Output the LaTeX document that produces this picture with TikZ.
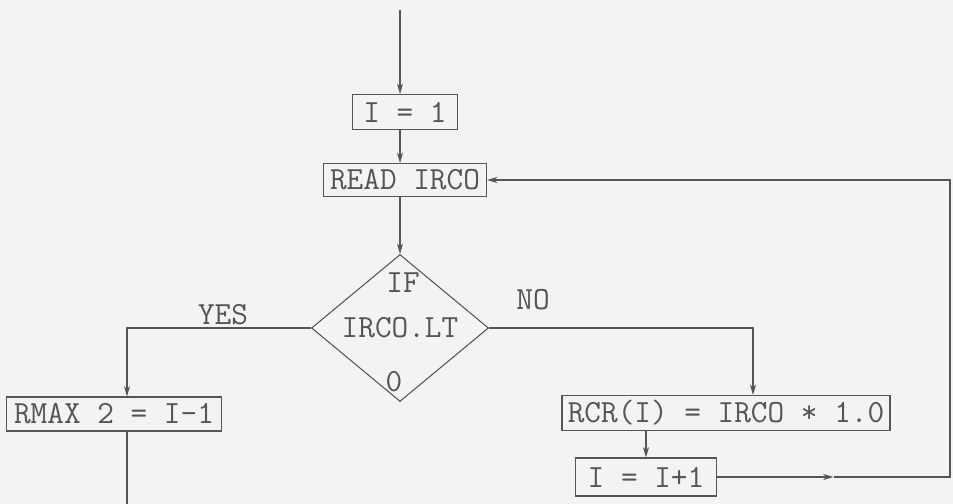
\documentclass[tikz,border=0pt]{standalone}
\usetikzlibrary{shapes.geometric, positioning, arrows.meta, calc}
\definecolor{paper}{RGB}{243,243,241}
\definecolor{ink}{RGB}{85,85,85}

\begin{document}
\begin{tikzpicture}[
    > = {Stealth[length=6pt, width=3.5pt]}, line width=0.6pt,
    typed/.style={font=\ttfamily\fontsize{18.4}{20}\selectfont, text=ink},
    box/.style={rectangle, draw=ink, typed, inner sep=1pt, minimum height=0.7cm},
    test/.style={diamond, draw=ink, typed, inner sep=1pt, minimum width=3.54cm, minimum height=2.94cm},
    tag/.style={typed, inner sep=0pt}
]
\fill[paper] (0,0) rectangle (19.06,10.08);
\useasboundingbox (0,0) rectangle (19.06,10.08);

% boxes down the main line
\node[box, minimum width=2.1cm] (init) at (8.1,7.84) {I = 1};
\node[box, minimum width=3.26cm, minimum height=0.66cm] (read) at (8.1,6.48) {READ IRCO};
\node[test] (cond) at (8.0,3.52) {IRCO.LT};
\node[tag] (condif) at ([xshift=0.06cm, yshift=0.9cm]cond.center) {IF};
\node[tag] (condzero) at ([xshift=-0.12cm, yshift=-1.08cm]cond.center) {0};

% the two branches
\node[box, minimum width=4.3cm, minimum height=0.68cm] (rmax) at (2.28,1.8) {RMAX 2 = I-1};
\node[box, minimum width=6.56cm] (rcr) at (14.52,1.82) {RCR(I) = IRCO * 1.0};
\node[box, minimum width=2.82cm, minimum height=0.76cm] (inc) at (12.92,0.54) {I = I+1};
\node[tag] (yes) at (4.46,3.78) {YES};
\node[tag] (no) at (10.66,4.08) {NO};

\coordinate (entry) at ([yshift=1.68cm]init.north -| cond.north);
\coordinate (yescorner) at (2.54,3.52);
\coordinate (exit) at (2.54,0);
\coordinate (nocorner) at (15.06,3.52);
\coordinate (rim) at (19.0,0);
\coordinate (loopSE) at (inc.east -| rim);
\coordinate (loopNE) at (read.east -| rim);
\coordinate (loopmid) at ($(inc.east)!0.5!(loopSE)$);

\draw[->, draw=ink] (entry) -- (init.north -| cond.north);
\draw[->, draw=ink] (init.south -| cond.north) -- (read.north -| cond.north);
\draw[->, draw=ink] (read.south -| cond.north) -- (cond.north);
\draw[->, draw=ink] (cond.west) -- (yescorner) -- (rmax.north -| yescorner);
\draw[draw=ink] (rmax.south -| exit) -- (exit);
\draw[->, draw=ink] (cond.east) -- (nocorner) -- (rcr.north -| nocorner);
\draw[->, draw=ink] (rcr.south -| inc.north) -- (inc.north);

% back to the read
\draw[->, draw=ink] (inc.east) -- (loopmid);
\draw[->, draw=ink] (loopmid) -- (loopSE) -- (loopNE) -- (read.east);
\end{tikzpicture}
\end{document}
